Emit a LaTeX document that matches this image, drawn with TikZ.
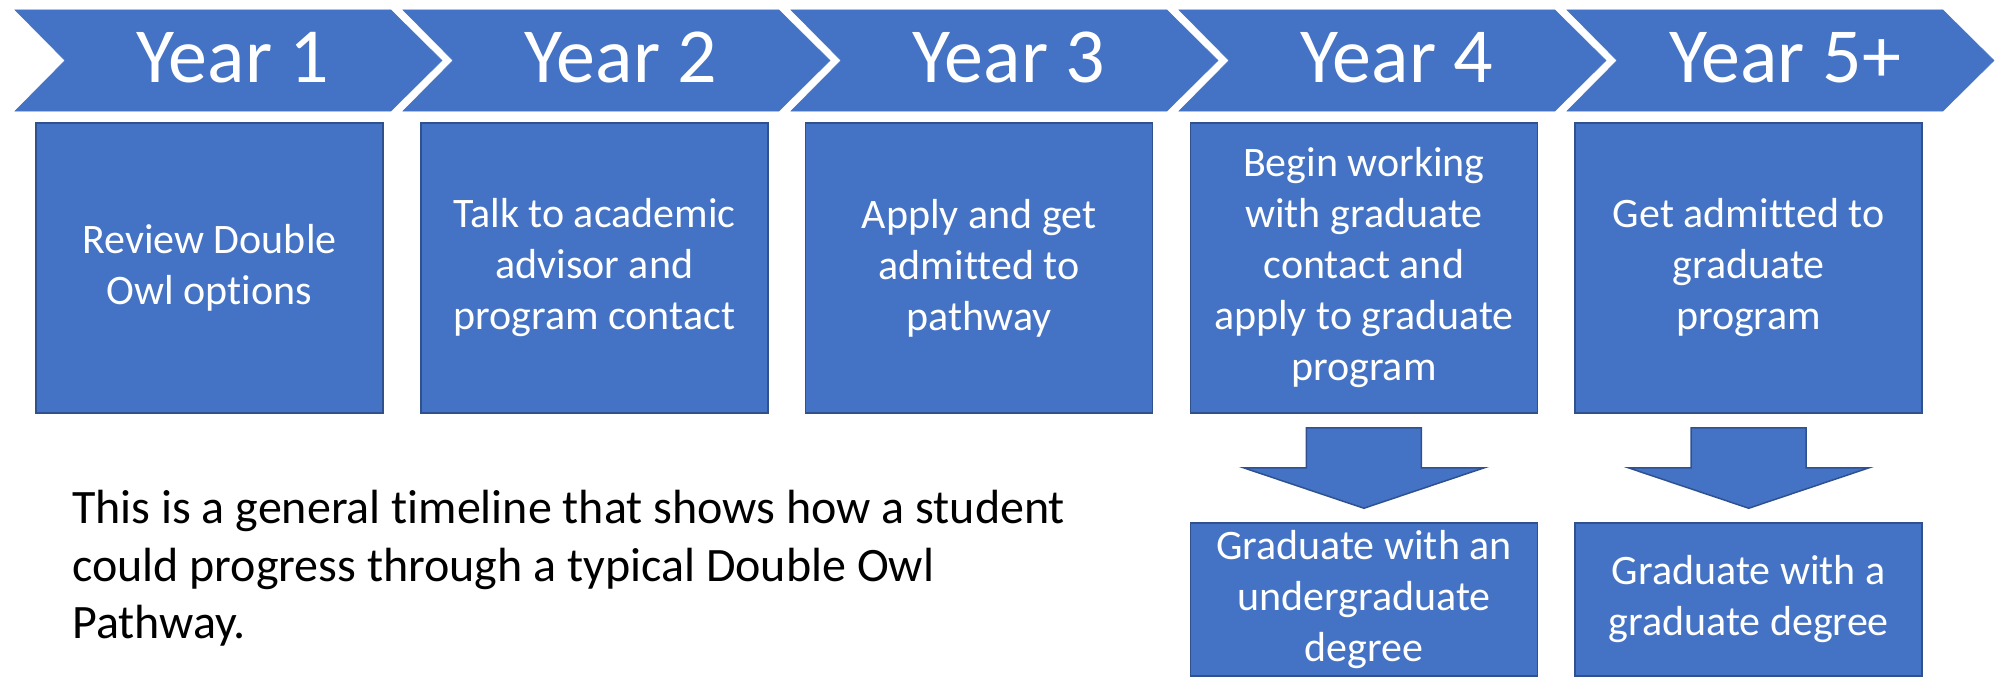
\documentclass[tikz,border=0pt]{standalone}
\usepackage{fontspec}
\setmainfont{Carlito}[Ligatures=NoCommon]
\usetikzlibrary{calc}
\definecolor{stepblue}{HTML}{4472C4}
\definecolor{edgeblue}{HTML}{2F528F}
\begin{document}
\begin{tikzpicture}
[x=1pt,y=-1pt,
  chevrondecorate/.style={fill=stepblue,draw=stepblue,line width=0.5pt},%
  yeardecorate/.style={anchor=base,inner sep=0pt,text=white,font=\fontsize{78}{94}\selectfont},%
  boxdecorate/.style={shape=rectangle,fill=stepblue,draw=edgeblue,line width=1.5pt,
    minimum width=347pt,minimum height=290pt,inner sep=0pt,align=center,
    text=white,font=\fontsize{42}{51}\selectfont},%
  gradbox/.style={boxdecorate,minimum height=153pt},%
  arrowdecorate/.style={fill=stepblue,draw=edgeblue,line width=1.5pt,line join=miter}]
\useasboundingbox (0,0) rectangle (1998,677);
% year chevrons
\foreach \i/\lbl in {1/Year 1,2/Year 2,3/Year 3,4/Year 4,5/Year 5+}{
  \pgfmathsetmacro{\L}{15+388*(\i-1)}
  \path[chevrondecorate] (\L,10) -- (\L+376,10) -- (\L+427,60.5) -- (\L+376,111)
    -- (\L,111) -- (\L+50,60.5) -- cycle;
  \node (year\i) at (\L+218,82) [yeardecorate] {\lbl};
}
% nodes or boxes
\node (b1) at (209.5,268) [boxdecorate] {Review Double\\Owl options};
\node (b2) at (594.3,268) [boxdecorate] {Talk to academic\\advisor and\\program contact};
\node (b3) at (979.1,268) [boxdecorate] {Apply and get\\admitted to\\pathway};
\node (b4) at (1363.9,268) [boxdecorate] {Begin working\\with graduate\\contact and\\apply to graduate\\program};
\node (b5) at (1748.7,268) [boxdecorate] {Get admitted to\\graduate\\program};
\node (g4) at (1363.9,599.5) [gradbox] {Graduate with an\\undergraduate\\degree};
\node (g5) at (1748.7,599.5) [gradbox] {Graduate with a\\graduate degree};
% note
\node (note) at (72,490) [anchor=north west,inner sep=0pt,align=left,font=\fontsize{48}{57.5}\selectfont]
  {This is a general timeline that shows how a student\\could progress through a typical Double Owl\\Pathway.};
% block arrows
\foreach \a/\b in {b4/g4,b5/g5}{
  \draw[arrowdecorate] ($(\a.south)+(-57.5,14)$) -- ($(\a.south)+(57.5,14)$)
    -- ($(\a.south)+(57.5,54)$) -- ($(\a.south)+(120.5,54)$) -- ($(\b.north)+(0,-14)$)
    -- ($(\a.south)+(-120.5,54)$) -- ($(\a.south)+(-57.5,54)$) -- cycle;
}
\end{tikzpicture}
\end{document}
